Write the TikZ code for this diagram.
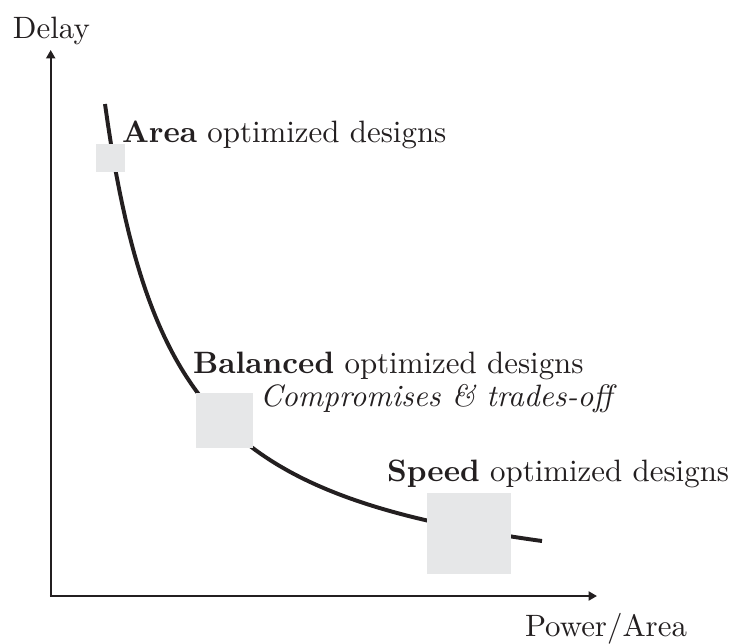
\documentclass[tikz,border=0pt]{standalone}
\usetikzlibrary{arrows.meta}
\definecolor{ink}{RGB}{35,31,32}
\definecolor{boxgray}{RGB}{230,231,232}
\begin{document}
\begin{tikzpicture}[x=0.33pt,y=-0.33pt,
  axis/.style={draw=ink,line width=0.66pt,-{Triangle[length=2.8pt,width=3pt]}},
  frontier/.style={draw=ink,line width=1.3pt},
  designbox/.style={fill=boxgray,draw=none,inner sep=0pt,outer sep=0pt},
  lbl/.style={inner sep=0pt,outer sep=0pt,anchor=base west,text=ink,
    font=\fontsize{10.2pt}{12pt}\selectfont}]
\useasboundingbox (0,0) rectangle (732,643);

% axes
\coordinate (origin) at (50.7,596);
\coordinate (ytip) at (50.7,50);
\coordinate (xtip) at (597,596);
\draw[axis] ([yshift=-0.3pt]origin) -- (ytip);
\draw[axis] ([xshift=-0.3pt]origin) -- (xtip);

% trade-off curve: delay falls as power/area grows
\draw[frontier] plot[domain=105:542,samples=150,variable=\t]
  ({\t},{611-354.88/((\t-35)/100)});

% design regions on the curve
\node[designbox,minimum width=29.3*0.33pt,minimum height=28*0.33pt] (areabox) at (110.5,158) {};
\node[designbox,minimum width=56.7*0.33pt,minimum height=55*0.33pt] (balbox) at (224.5,420) {};
\node[designbox,minimum width=83.7*0.33pt,minimum height=80.7*0.33pt] (speedbox) at (469.2,533.7) {};

% labels
\node[lbl] (delay) at (13,38) {Delay};
\node[lbl] (power) at (525,636.7) {Power/Area};
\node[lbl] (arealbl) at (122,142) {\textbf{Area} optimized designs};
\node[lbl] (ballbl) at (193,373.3) {\textbf{Balanced} optimized designs};
\node[lbl] (comp) at (260,406) {\textit{Compromises \& trades-off}};
\node[lbl] (speedlbl) at (387,481.7) {\textbf{Speed} optimized designs};
\end{tikzpicture}
\end{document}
